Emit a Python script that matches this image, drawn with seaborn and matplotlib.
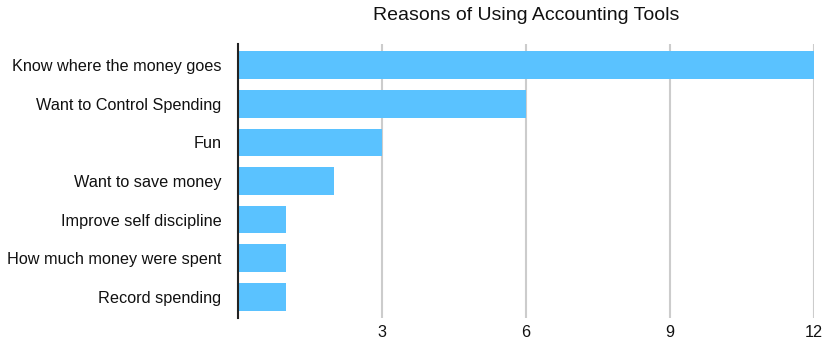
import matplotlib
matplotlib.use("Agg")
import matplotlib.pyplot as plt
import seaborn as sns
import pandas as pd

categories = ["Know where the money goes", "Want to Control Spending", "Fun",
              "Want to save money", "Improve self discipline",
              "How much money were spent", "Record spending"]
values = [12, 6, 3, 2, 1, 1, 1]
ticks = [3, 6, 9, 12]

sns.set_theme(style="white")
plt.rcParams['font.family'] = ['Liberation Sans', 'DejaVu Sans']

df = pd.DataFrame({"reason": categories, "count": values})

fig = plt.figure(figsize=(8.26, 3.44), dpi=100)
ax = fig.add_axes([238/826, 1-318/344, (814-238)/826, (318-44)/344])
sns.barplot(data=df, y="reason", x="count", orient="h", color="#5AC2FF",
            saturation=1, width=0.72, ax=ax, zorder=3, linewidth=0)
ax.set_xlim(0, 12)
ax.set_ylim(6.55, -0.55)
ax.set_xticks(ticks)
ax.set_xticklabels([str(t) for t in ticks], fontsize=11.7, color="#111111")
ax.tick_params(axis="y", labelsize=11.7, labelcolor="#111111", length=0, pad=12)
ax.tick_params(axis="x", length=0, pad=5)
ax.grid(axis="x", color="#cccccc", linewidth=1.5, zorder=0)
ax.grid(axis="y", visible=False)
for s in ["top", "right", "bottom"]:
    ax.spines[s].set_visible(False)
ax.spines["left"].set_color("#222222")
ax.spines["left"].set_linewidth(1.5)
ax.spines["left"].set_zorder(5)
ax.set_xlabel("")
ax.set_ylabel("")
fig.text(526/826, 1-16/344, "Reasons of Using Accounting Tools", ha="center", va="center",
         fontsize=14, color="#111111")
fig.savefig("out.png", dpi=100)
